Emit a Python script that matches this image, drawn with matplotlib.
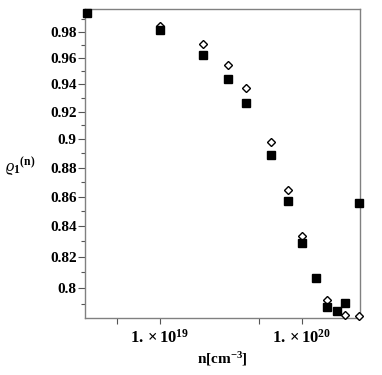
import matplotlib
matplotlib.use("Agg")
import matplotlib.pyplot as plt
from matplotlib.ticker import FixedLocator, NullFormatter, FixedFormatter

plt.rcParams['font.family'] = ['Liberation Serif', 'DejaVu Serif']
plt.rcParams['mathtext.fontset'] = 'custom'
plt.rcParams['mathtext.rm'] = 'Liberation Serif'
plt.rcParams['mathtext.it'] = 'Liberation Serif:italic'
plt.rcParams['mathtext.bf'] = 'Liberation Serif:bold'

# data: carrier density n [cm^-3]
n_sq = [3.05e18, 1.0e19, 2.0e19, 3.0e19, 4.0e19, 6.0e19, 8.0e19, 1.0e20, 1.25e20, 1.5e20, 1.75e20, 2.0e20, 2.5e20]
rho_sq = [0.995, 0.9812, 0.9623, 0.944, 0.9261, 0.8889, 0.8571, 0.8289, 0.8065, 0.7876, 0.7851, 0.7903, 0.8555]

n_di = [3.05e18, 1.0e19, 2.0e19, 3.0e19, 4.0e19, 6.0e19, 8.0e19, 1.0e20, 1.5e20, 2.0e20, 2.5e20]
rho_di = [0.995, 0.9847, 0.9705, 0.9547, 0.9372, 0.8984, 0.8647, 0.8333, 0.7924, 0.7826, 0.782]

y_major = [0.80, 0.82, 0.84, 0.86, 0.88, 0.90, 0.92, 0.94, 0.96, 0.98]
y_major_labels = ['0.8', '0.82', '0.84', '0.86', '0.88', '0.9', '0.92', '0.94', '0.96', '0.98']
y_minor = [0.79, 0.81, 0.83, 0.85, 0.87, 0.89, 0.91, 0.93, 0.95, 0.97, 0.99]
x_major = [1e19, 1e20]
x_major_labels = [r'$\mathbf{1.\times10^{19}}$', r'$\mathbf{1.\times10^{20}}$']
x_minor = [5e18, 5e19]

fig = plt.figure(figsize=(3.82, 3.75), dpi=100)
ax = fig.add_axes([0.2225, 0.152, 0.7199, 0.824])
ax.set_xscale('log')
ax.set_yscale('log')

ax.plot(n_di, rho_di, linestyle='none', marker='D', markersize=4.3,
        markerfacecolor='white', markeredgecolor='black', markeredgewidth=1.0, clip_on=False, zorder=3)
ax.plot(n_sq, rho_sq, linestyle='none', marker='s', markersize=5.5,
        markerfacecolor='black', markeredgecolor='black', clip_on=False, zorder=4)

ax.set_xlim(2.964e18, 2.56e20)
ax.set_ylim(0.7810, 0.99803)

ax.yaxis.set_major_locator(FixedLocator(y_major))
ax.yaxis.set_major_formatter(FixedFormatter(y_major_labels))
ax.yaxis.set_minor_locator(FixedLocator(y_minor))
ax.yaxis.set_minor_formatter(NullFormatter())
ax.xaxis.set_major_locator(FixedLocator(x_major))
ax.xaxis.set_major_formatter(FixedFormatter(x_major_labels))
ax.xaxis.set_minor_locator(FixedLocator(x_minor))
ax.xaxis.set_minor_formatter(NullFormatter())

for sp in ax.spines.values():
    sp.set_color('#808080')
    sp.set_linewidth(1.0)

ax.tick_params(axis='y', which='major', direction='out', length=5, width=0.8, color='#555555',
               labelsize=11, pad=1)
ax.tick_params(axis='y', which='minor', direction='out', length=3, width=0.8, color='#555555')
ax.tick_params(axis='x', which='both', direction='out', length=4, width=0.8, color='#555555',
               labelsize=12, pad=4)
ax.tick_params(top=False, right=False, which='both')

for lab in ax.get_yticklabels():
    lab.set_fontweight('bold')

ax.set_xlabel(r'$\mathbf{n[cm^{-3}]}$', fontsize=11, labelpad=2)
fig.text(0.012, 1 - 167/375, r'$\varrho_{\mathbf{1}}\mathbf{^{(n)}}$', fontsize=12,
         ha='left', va='center')

fig.savefig('out.png', dpi=100)
